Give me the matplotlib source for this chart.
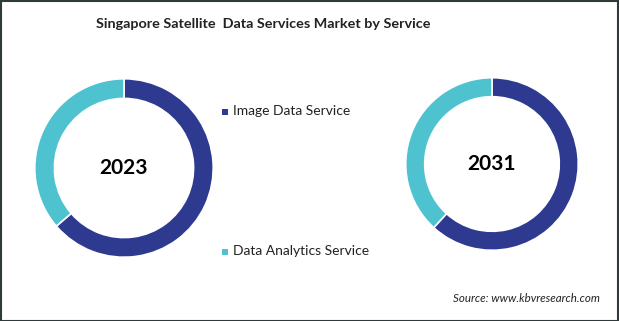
import matplotlib.pyplot as plt
from matplotlib.patches import Rectangle

# data
services = ['Image Data Service', 'Data Analytics Service']
colors = ['#2E3A8F', '#4EC3CF']
years = ['2023', '2031']
share_2023 = [63.7, 36.3]
share_2031 = [61.8, 38.2]

W, H = 619, 321
fig = plt.figure(figsize=(W / 100, H / 100), dpi=100)
plt.rcParams['font.family'] = ['Lato', 'DejaVu Sans']


def donut(cx, cy, r, values, label):
    # cx, cy, r in pixels (y from top)
    ax = fig.add_axes([(cx - r) / W, (H - cy - r) / H, 2 * r / W, 2 * r / H])
    ax.pie(values, colors=colors, startangle=90, counterclock=False,
           radius=1.0, wedgeprops=dict(width=0.22, edgecolor='white', linewidth=1.2))
    ax.set_xlim(-1.02, 1.02)
    ax.set_ylim(-1.02, 1.02)
    ax.set_aspect('auto')
    ax.axis('off')
    ax.text(0, 0, label, ha='center', va='center', fontsize=15, fontweight='bold', color='black')


donut(124, 168, 91, share_2023, years[0])
donut(492, 164, 88, share_2031, years[1])

fig.text(263 / W, 1 - 24 / H, 'Singapore Satellite  Data Services Market by Service',
         ha='center', va='center', fontsize=10.4, fontweight='bold', color='#222222')

# legend
leg_y = [111, 251]
for name, c, y in zip(services, colors, leg_y):
    fig.patches.append(Rectangle(((222) / W, 1 - (y + 3.5) / H), 6 / W, 6 / H,
                                 transform=fig.transFigure, facecolor=c, edgecolor='none'))
    fig.text(233 / W, 1 - y / H, name, ha='left', va='center', fontsize=10, color='#222222')

fig.text(600 / W, 1 - 299 / H, 'Source: www.kbvresearch.com', ha='right', va='center',
         fontsize=8.3, style='italic', color='#222222')

# frame
fig.patches.append(Rectangle((0.5 / W, 0.5 / H), 1 - 1.5 / W, 1 - 1.5 / H, transform=fig.transFigure,
                             facecolor='none', edgecolor='#2F3B3B', linewidth=1.5))

fig.savefig('out.png', dpi=100, facecolor='white')
